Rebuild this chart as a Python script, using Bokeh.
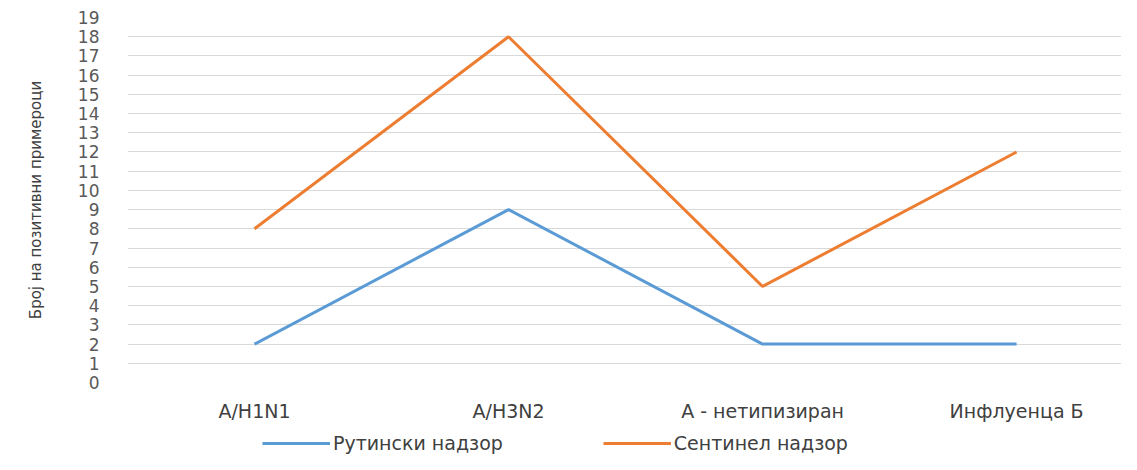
from bokeh.plotting import figure
from bokeh.layouts import column
from bokeh.models import Range1d, FixedTicker, Legend, LegendItem, ColumnDataSource
from bokeh.embed import file_html
from bokeh.resources import INLINE

categories = ["A/H1N1", "A/H3N2", "А - нетипизиран", "Инфлуенца Б"]
routine = [2, 9, 2, 2]
sentinel = [8, 18, 5, 12]
series_names = ["Рутински надзор", "Сентинел надзор"]
y_ticks = list(range(0, 20))

xs = list(range(len(categories)))
FONT = "DejaVu Sans"
BLUE = "#5B9BD5"
ORANGE = "#ED7D31"

p = figure(width=1121, height=428, output_backend="svg", toolbar_location=None,
           x_range=Range1d(-0.5, 3.413), y_range=Range1d(0, 19),
           min_border_left=127, min_border_right=0, min_border_top=17, min_border_bottom=46)
p.outline_line_color = None
p.background_fill_color = "white"

src = ColumnDataSource(dict(x=xs, r=routine, s=sentinel))
p.line("x", "r", source=src, line_color=BLUE, line_width=3)
p.line("x", "s", source=src, line_color=ORANGE, line_width=3)

p.xgrid.grid_line_color = None
p.ygrid.grid_line_color = "#D9D9D9"
p.ygrid.grid_line_width = 1

p.yaxis.ticker = FixedTicker(ticks=y_ticks)
p.yaxis.axis_line_color = None
p.yaxis.major_tick_line_color = None
p.yaxis.major_tick_out = 0
p.yaxis.minor_tick_line_color = None
p.yaxis.major_label_text_font = FONT
p.yaxis.major_label_text_font_size = "17px"
p.yaxis.major_label_text_color = "#595959"
p.yaxis.major_label_standoff = 28
p.yaxis.axis_label = "Број на позитивни примероци"
p.yaxis.axis_label_text_font = FONT
p.yaxis.axis_label_text_font_size = "15px"
p.yaxis.axis_label_text_font_style = "normal"
p.yaxis.axis_label_text_color = "#404040"
p.yaxis.axis_label_standoff = 30

p.xaxis.ticker = FixedTicker(ticks=xs)
p.xaxis.major_label_overrides = {i: c for i, c in zip(xs, categories)}
p.xaxis.axis_line_color = None
p.xaxis.major_tick_line_color = None
p.xaxis.major_tick_out = 0
p.xaxis.minor_tick_line_color = None
p.xaxis.major_label_text_font = FONT
p.xaxis.major_label_text_font_size = "19px"
p.xaxis.major_label_text_color = "#404040"
p.xaxis.major_label_standoff = 17

# legend strip below the chart (its lines fall outside its own ranges; only the legend shows)
q = figure(width=1121, height=26, output_backend="svg", toolbar_location=None,
           x_range=Range1d(100, 101), y_range=Range1d(100, 101),
           min_border_left=127, min_border_right=0, min_border_top=0, min_border_bottom=0)
q.outline_line_color = None
q.axis.visible = False
q.grid.visible = False
l1 = q.line("x", "r", source=src, line_color=BLUE, line_width=3)
l2 = q.line("x", "s", source=src, line_color=ORANGE, line_width=3)
legend = Legend(items=[LegendItem(label=series_names[0], renderers=[l1]),
                       LegendItem(label=series_names[1], renderers=[l2])],
                orientation="horizontal", location=(135, 0),
                glyph_width=68, spacing=100, label_standoff=3,
                label_text_font=FONT, label_text_font_size="19px",
                label_text_color="#404040", border_line_color=None,
                background_fill_alpha=0, padding=0, margin=0)
q.add_layout(legend, "center")

open("out.html", "w").write(file_html(column(p, q, spacing=0), INLINE))
